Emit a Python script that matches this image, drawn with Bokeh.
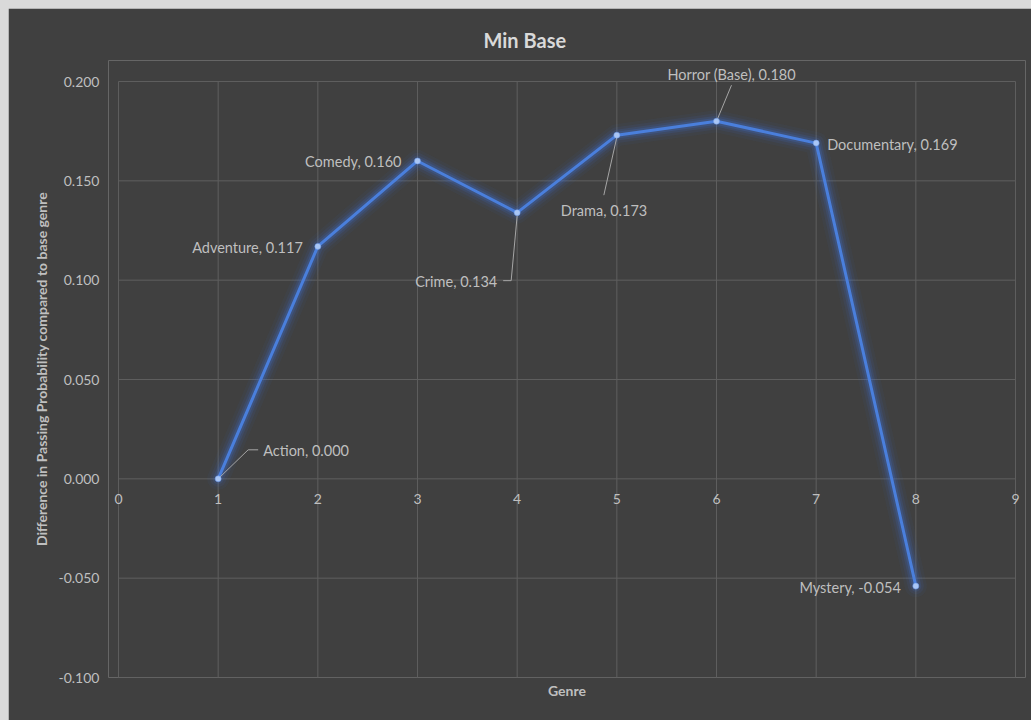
from bokeh.plotting import figure
from bokeh.models import (ColumnDataSource, LabelSet, LinearAxis, FixedTicker,
                          PrintfTickFormatter)
from bokeh.core.properties import value
from bokeh.layouts import column
from bokeh.embed import file_html
from bokeh.resources import INLINE

# ---- data ----
genre_pos = [1, 2, 3, 4, 5, 6, 7, 8]
genre_names = ["Action", "Adventure", "Comedy", "Crime", "Drama",
               "Horror (Base)", "Documentary", "Mystery"]
diff_values = [0.000, 0.117, 0.160, 0.134, 0.173, 0.180, 0.169, -0.054]
x_ticks = [0, 1, 2, 3, 4, 5, 6, 7, 8, 9]
y_ticks = [-0.100, -0.050, 0.000, 0.050, 0.100, 0.150, 0.200]

# ---- style / placement (pixels) ----
BG = "#404040"
GRID = "#5e5e5e"
TXT = "#bfbfbf"
FONT = "Lato"
PX_X = 99.67          # pixels per x unit
PX_Y = 1986.0         # pixels per y unit
lab_dx = [45, -15, -16, -102, -56, -49, 11, -15]
lab_dy = [28, -1, -1, -69, -75, 47, -1, -1]
lab_left = [True, False, False, True, True, True, True, False]
leaders = {0: [(0, 0), (30, 29), (40, 29)],
           3: [(0, -3), (-6, -68), (-14, -68)],
           4: [(0, -2), (-13, -60)],
           5: [(0, 0), (15, 36)]}

x_lo, x_hi = x_ticks[0], x_ticks[-1]
y_lo, y_hi = y_ticks[0], y_ticks[-1]
pad_x = 10 / PX_X
pad_top = 21 / PX_Y

p = figure(width=1023, height=712,
           x_range=(x_lo - pad_x, x_hi + pad_x), y_range=(y_lo, y_hi + pad_top),
           output_backend="svg", toolbar_location=None,
           background_fill_color=BG, border_fill_color=BG,
           min_border_left=100, min_border_right=6, min_border_top=52,
           min_border_bottom=43, margin=(8, 0, 0, 8))
p.outline_line_color = None

# title
p.title.text = "Min Base"
p.title.text_font = FONT
p.title.text_font_size = "20px"
p.title.text_font_style = "bold"
p.title.text_color = "#d9d9d9"
p.title.align = "left"
p.title.offset = 375
p.title.standoff = 18

# grid drawn over the exact data extent
p.xgrid.visible = False
p.ygrid.visible = False
p.segment(x0=x_ticks, x1=x_ticks, y0=[y_lo] * len(x_ticks), y1=[y_hi] * len(x_ticks),
          line_color=GRID, line_width=1)
p.segment(x0=[x_lo] * len(y_ticks), x1=[x_hi] * len(y_ticks), y0=y_ticks, y1=y_ticks,
          line_color=GRID, line_width=1)

# y axis
ya = p.yaxis[0]
ya.ticker = FixedTicker(ticks=y_ticks)
ya.formatter = PrintfTickFormatter(format="%.3f")
ya.axis_line_color = None
ya.major_tick_line_color = None
ya.minor_tick_line_color = None
ya.major_label_text_font = FONT
ya.major_label_text_font_size = "14px"
ya.major_label_text_color = TXT
ya.major_label_standoff = 3
ya.axis_label = "Difference in Passing Probability compared to base genre"
ya.axis_label_text_font = FONT
ya.axis_label_text_font_size = "14px"
ya.axis_label_text_font_style = "bold"
ya.axis_label_text_color = TXT
ya.axis_label_standoff = 6

# x axis (title only, at bottom)
xa = p.xaxis[0]
xa.ticker = FixedTicker(ticks=[])
xa.axis_line_color = None
xa.major_tick_line_color = None
xa.minor_tick_line_color = None
xa.axis_label = "Genre"
xa.axis_label_text_font = FONT
xa.axis_label_text_font_size = "14px"
xa.axis_label_text_font_style = "bold"
xa.axis_label_text_color = TXT
xa.axis_label_standoff = 4

# x axis numbers, crossing at y = 0
xn = LinearAxis(fixed_location=0, ticker=FixedTicker(ticks=x_ticks))
xn.axis_line_color = None
xn.major_tick_line_color = None
xn.minor_tick_line_color = None
xn.major_label_text_font = FONT
xn.major_label_text_font_size = "14px"
xn.major_label_text_color = TXT
xn.major_label_standoff = 9
p.add_layout(xn, "below")

src = ColumnDataSource(dict(
    x=genre_pos, y=diff_values,
    label=[f"{n}, {v:.3f}" for n, v in zip(genre_names, diff_values)],
    dx=lab_dx, dy=lab_dy))

# glow
for w, a in [(22, 0.05), (16, 0.08), (11, 0.13), (7, 0.2)]:
    p.line("x", "y", source=src, line_color="#3f74e0", line_width=w,
           line_alpha=a, line_join="round", line_cap="round")
p.line("x", "y", source=src, line_color="#4a7fdc", line_width=3,
       line_join="round")

# leader lines
lx, ly = [], []
for i, pts in leaders.items():
    lx.append([genre_pos[i] + dx / PX_X for dx, dy in pts])
    ly.append([diff_values[i] + dy / PX_Y for dx, dy in pts])
p.multi_line(lx, ly, line_color="#a6a6a6", line_width=1)

p.scatter("x", "y", source=src, size=6, fill_color="#a9c6f5",
          line_color="#6f9be8", line_width=0.5)

left_idx = [i for i, l in enumerate(lab_left) if l]
right_idx = [i for i, l in enumerate(lab_left) if not l]
for idx, align in ((left_idx, "left"), (right_idx, "right")):
    sub = ColumnDataSource({k: [src.data[k][i] for i in idx] for k in src.data})
    ls = LabelSet(x="x", y="y", text="label", x_offset="dx", y_offset="dy",
                  source=sub, text_align=align, text_baseline="middle",
                  text_font=value(FONT), text_font_size="14.5px", text_color=TXT)
    p.add_layout(ls)

layout = column(p, styles={"background-color": "#d9d9d9"})
open("out.html", "w").write(file_html(layout, INLINE))
